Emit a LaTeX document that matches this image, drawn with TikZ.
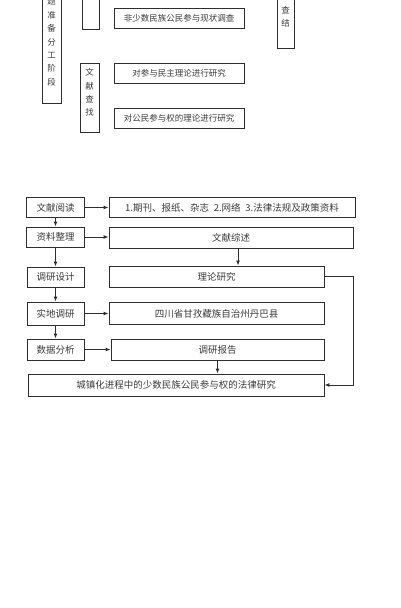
\documentclass[tikz,border=0pt]{standalone}
\usepackage{fontspec}
\setmainfont{Noto Sans CJK SC}
\usetikzlibrary{arrows.meta,calc}
\definecolor{inkgray}{HTML}{2E2E2E}
\definecolor{txtgray}{HTML}{3A3A3A}

\begin{document}
\begin{tikzpicture}[x=1pt,y=-1pt,
    box/.style={draw=inkgray,line width=0.9pt,inner sep=0pt,text=txtgray,
      font=\fontsize{9.5}{11}\selectfont},
    topbox/.style={box,minimum width=130,minimum height=20,
      font=\fontsize{8.5}{10}\selectfont},
    vbox/.style={box,minimum width=18,align=center,
      font=\fontsize{8.5}{13.4}\selectfont},
    lbox/.style={box,minimum width=57,minimum height=20},
    arr/.style={-{Latex[length=5pt,width=4pt]},draw=inkgray,line width=0.9pt}]
  \useasboundingbox (0,0) rectangle (400,608);

  % upper part (cut at the top edge)
  \node[vbox,minimum width=19,minimum height=122] (zbjd) at (51.5,42)
    {题\\准\\备\\分\\工\\阶\\段};
  \node[vbox,minimum width=17,minimum height=49] (sddc) at (90.5,4.5) {};
  \node[vbox,minimum width=19,minimum height=69] (wxcz) at (89.5,97.5) {};
  \node[vbox,draw=none] (wxczt) at ([yshift=5pt]wxcz.center) {文\\献\\查\\找};
  \node[topbox] (xzdc) at (179,18) {非少数民族公民参与现状调查};
  \node[topbox] (mzll) at (179,73.5) {对参与民主理论进行研究};
  \node[topbox] (cyql) at (179,118.5) {对公民参与权的理论进行研究};
  \node[vbox,minimum width=17,minimum height=68] (dcjg) at (285.5,14) {};
  \node[vbox,draw=none] (dcjgt) at ([yshift=-2.5pt]dcjg.center) {查\\结};

  % lower flow chart
  \node[lbox,minimum width=58] (wxyd) at (55.5,207.5) {文献阅读};
  \node[box,minimum width=246,minimum height=20] (qkbz) at (232,207.5)
    {1.期刊、报纸、杂志\enspace 2.网络\enspace 3.法律法规及政策资料};
  \node[lbox,minimum width=58] (zlzl) at (55.5,237) {资料整理};
  \node[box,minimum width=244,minimum height=21] (wxzs) at (231,237.5) {文献综述};
  \node[lbox] (dysj) at (55.5,277) {调研设计};
  \node[box,minimum width=215,minimum height=21] (llyj) at (216.5,276.5) {理论研究};
  \node[lbox,minimum height=23] (sddy) at (55.5,313.5) {实地调研};
  \node[box,minimum width=215,minimum height=22] (gzdb) at (216.5,313.5)
    {四川省甘孜藏族自治州丹巴县};
  \node[lbox,minimum height=21] (sjfx) at (55.5,349.5) {数据分析};
  \node[box,minimum width=213,minimum height=21] (dybg) at (217.5,349.5) {调研报告};
  \node[box,minimum width=296,minimum height=22] (fljg) at (176,385)
    {城镇化进程中的少数民族公民参与权的法律研究};

  \draw[arr] (wxyd.east) -- (wxyd.east -| qkbz.west);
  \draw[arr] (wxyd) -- (zlzl);
  \draw[arr] (zlzl.east) -- (zlzl.east -| wxzs.west);
  \draw[arr] (zlzl) -- (dysj);
  \draw[arr] ([xshift=7pt]wxzs.south) -- ([xshift=7pt]wxzs.south |- llyj.north);
  \draw[arr] (dysj) -- (sddy);
  \draw[arr] (sddy.east) -- (sddy.east -| gzdb.west);
  \draw[arr] (sddy) -- (sjfx);
  \draw[arr] (sjfx.east) -- (sjfx.east -| dybg.west);
  \draw[arr] (dybg.south) -- (dybg.south |- fljg.north);
  \draw[arr] (llyj.east) -- ++(29,0) |- (fljg.east);
\end{tikzpicture}
\end{document}
